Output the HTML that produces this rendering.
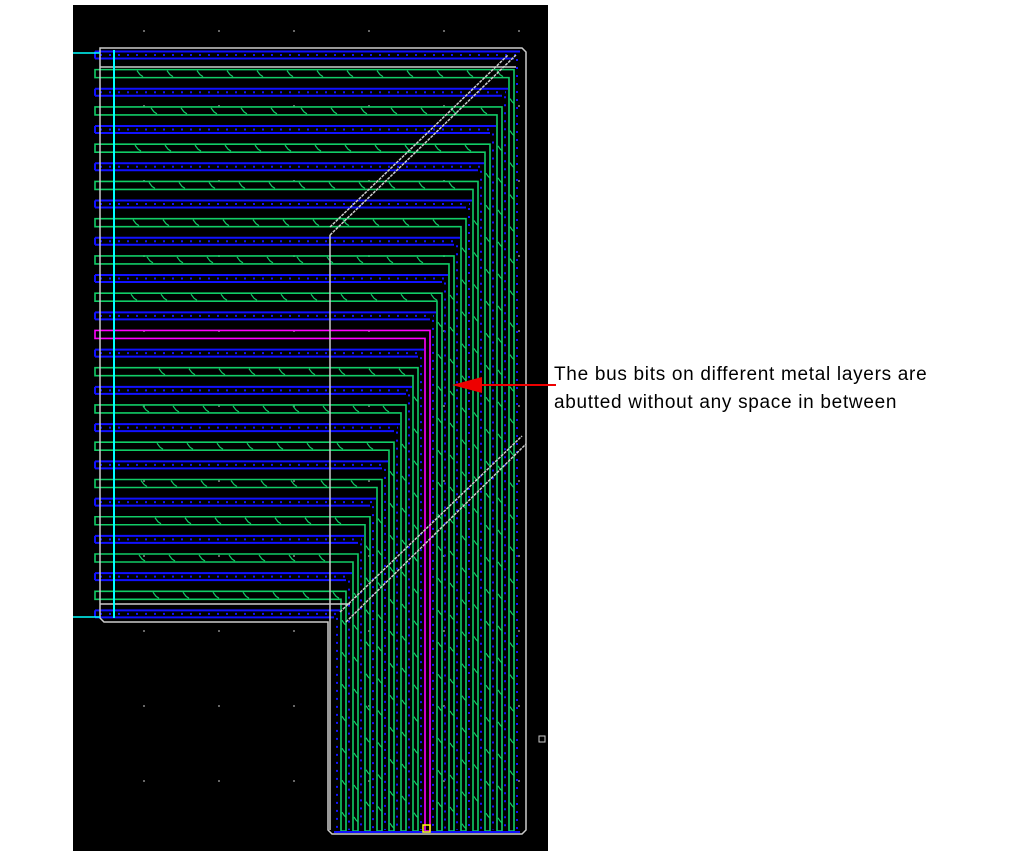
<!DOCTYPE html>
<html><head><meta charset="utf-8"><style>
body{margin:0;background:#fff;width:1013px;height:854px;overflow:hidden;position:relative;font-family:"Liberation Sans",sans-serif}
svg{position:absolute;left:0;top:0}
.t{position:absolute;left:554px;font-size:19px;letter-spacing:0.7px;color:#000;line-height:28px;top:361px;white-space:nowrap}
</style></head><body>
<svg id="s" width="1013" height="854" xmlns="http://www.w3.org/2000/svg">
<rect x="73" y="5" width="475" height="846" fill="#000"/>
<g id="g"></g>
<!-- white outline -->
<path d="M100 48 H522 L526 52 V830 L522 834 H332 L328 830 V622 H104 L100 618 Z" fill="none" stroke="#ccc" stroke-width="1.5"/>
<line x1="330" y1="235" x2="330" y2="830" stroke="#ccc" stroke-width="1.5"/>
<line x1="330" y1="235" x2="516" y2="55" stroke="#ccc" stroke-width="1.5" stroke-dasharray="3 1"/>
<line x1="330" y1="227" x2="508" y2="55" stroke="#ccc" stroke-width="1.5" stroke-dasharray="3 1"/>
<line x1="340" y1="612" x2="522" y2="436" stroke="#ccc" stroke-width="1.5" stroke-dasharray="3 1"/>
<line x1="346" y1="622" x2="526" y2="444" stroke="#ccc" stroke-width="1.5" stroke-dasharray="3 1"/>
<line x1="100" y1="67" x2="516" y2="67" stroke="#ccc" stroke-width="1.5"/>
<line x1="100" y1="604" x2="350" y2="604" stroke="#ccc" stroke-width="1.5"/>
<line x1="114" y1="50" x2="114" y2="618" stroke="#0ff" stroke-width="2"/>
<line x1="73" y1="53" x2="100" y2="53" stroke="#0ff" stroke-width="1.5"/>
<line x1="73" y1="617" x2="100" y2="617" stroke="#0ff" stroke-width="1.5"/>
<rect x="423" y="825" width="7" height="7" fill="none" stroke="#ff0" stroke-width="1.5"/>
<rect x="539" y="736" width="6" height="6" fill="none" stroke="#ccc" stroke-width="1"/>
<!-- arrow -->
<line x1="480" y1="385" x2="556" y2="385" stroke="#e00" stroke-width="2"/>
<polygon points="452,385 482,377 482,393" fill="#e00"/>
</svg>
<div class="t">The bus bits on different metal layers are<br>abutted without any space in between</div>
<script>
var g=document.getElementById('g'),h='';
for(var gx=143;gx<548;gx+=75)for(var gy=30;gy<851;gy+=75)h+='<rect x="'+gx+'" y="'+gy+'" width="2" height="2" fill="#666"/>';
for(var i=0;i<31;i++){
 var y=55+i*18.63,r=520-i*6;
 if(i%2==0){
  h+='<path d="M95 '+(y-3.5)+' H'+r+' M95 '+(y+3.5)+' H'+(r-6)+' M95 '+(y-3.5)+' V'+(y+3.5)+'" stroke="#11f" stroke-width="2" fill="none"/>';
  h+='<line x1="100" y1="'+y+'" x2="'+(r-2)+'" y2="'+y+'" stroke="#11f" stroke-width="2" stroke-dasharray="2 7"/>';
  h+='<line x1="'+(r-3)+'" y1="'+(y+4)+'" x2="'+(r-3)+'" y2="830" stroke="#11f" stroke-width="2" stroke-dasharray="2 6"/>';
 }else{
  var c=(i==15)?'#f0f':'#1c6';
  h+='<path d="M95 '+(y-4)+' H'+r+' V831 H'+(r-5)+' V'+(y+4)+' H95 Z" stroke="'+c+'" stroke-width="1.6" fill="none"/>';
  if(i!=15){
   for(var x=130+(i*7)%30;x<r-10;x+=30)h+='<path d="M'+x+' '+(y-3)+' l3 4 l3 2" stroke="#1c6" stroke-width="1.2" fill="none"/>';
   for(var yy=y+20+(i*5)%20;yy<825;yy+=32)h+='<path d="M'+(r-4)+' '+yy+' l2 3 l2 2" stroke="#1c6" stroke-width="1.2" fill="none"/>';
  }
 }
}
h+='<line x1="334" y1="832" x2="520" y2="832" stroke="#11f" stroke-width="2"/>';
g.innerHTML=h;
</script>
</body></html>
